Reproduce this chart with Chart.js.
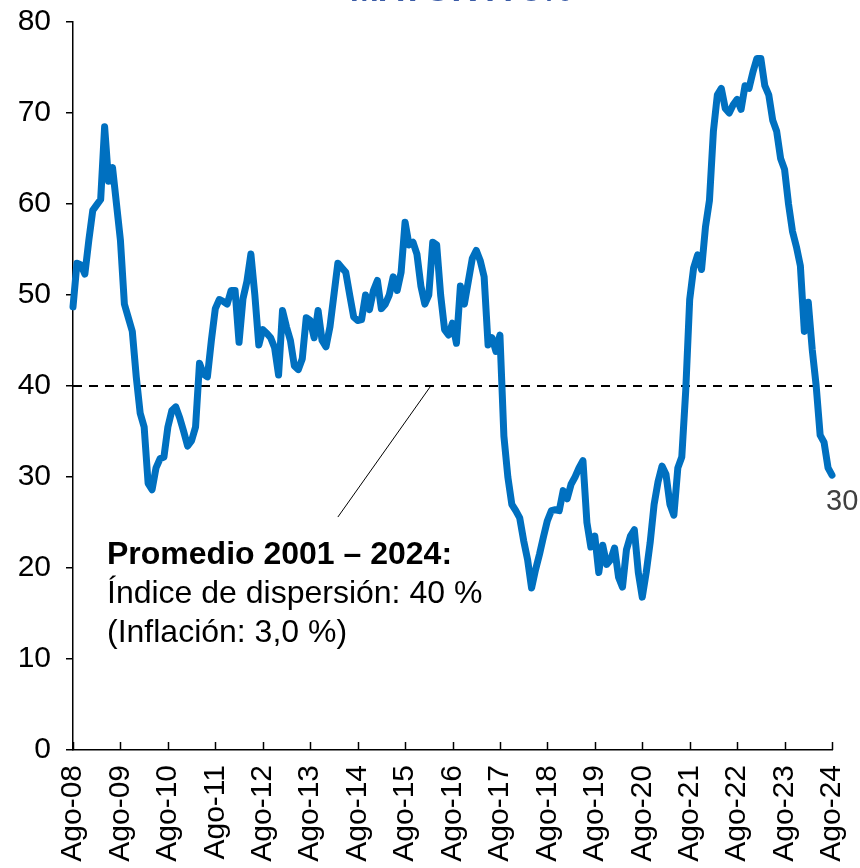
<!DOCTYPE html>
<html>
<head>
<meta charset="utf-8">
<script src="https://cdn.jsdelivr.net/npm/chart.js@4"></script>
<style>
  html, body { margin: 0; padding: 0; background: #fff; }
  #wrap { width: 860px; height: 868px; }
</style>
</head>
<body>
<div id="wrap"><canvas id="grafico" width="860" height="868"></canvas></div>
<script>
// indice de dispersion, mensual ago-08 a ago-24
const valores = [
  48.7, 53.5, 53.3, 52.3, 56.0, 59.3, 59.9, 60.5, 68.5, 62.5, 64.0, 60.0, 56.0,
  49.0, 47.5, 46.0, 41.0, 37.0, 35.5, 29.3, 28.6, 31.0, 32.0, 32.2, 35.5,
  37.3, 37.7, 36.5, 35.0, 33.4, 34.0, 35.5, 42.5, 41.3, 41.0, 45.0, 48.5,
  49.5, 49.3, 49.0, 50.5, 50.5, 44.8, 49.6, 51.5, 54.5, 50.0, 44.5, 46.2,
  45.8, 45.3, 44.2, 41.2, 48.3, 46.5, 45.0, 42.2, 41.8, 43.0, 47.5, 47.2,
  45.3, 48.3, 45.0, 44.3, 46.5, 50.0, 53.5, 53.0, 52.5, 50.0, 47.6, 47.2,
  47.3, 50.0, 48.4, 50.5, 51.6, 48.5, 49.0, 50.0, 52.0, 50.5, 52.5, 58.0,
  55.5, 55.8, 54.5, 51.0, 49.0, 50.0, 55.8, 55.5, 50.0, 46.2, 45.6, 46.9,
  44.7, 51.0, 49.0, 51.5, 54.0, 54.9, 53.8, 52.0, 44.5, 45.3, 43.8, 45.6,
  34.5, 30.0, 27.0, 26.3, 25.5, 23.0, 20.9, 17.8, 19.8, 21.5, 23.4, 25.2,
  26.3, 26.4, 26.3, 28.5, 27.6, 29.2, 30.0, 31.0, 31.8, 25.0, 22.3, 23.5,
  19.5, 22.5, 20.4, 20.9, 22.2, 19.0, 17.9, 22.0, 23.5, 24.2, 19.5, 16.8,
  19.5, 22.8, 27.0, 29.5, 31.2, 30.3, 27.0, 25.8, 31.0, 32.2, 39.5, 49.5,
  53.0, 54.4, 52.8, 57.5, 60.4, 68.0, 72.0, 72.7, 70.5, 70.0, 70.9, 71.5,
  70.4, 73.0, 72.7, 74.5, 76.0, 76.0, 73.0, 72.0, 69.2, 68.0, 65.0, 63.8,
  60.0, 57.0, 55.3, 53.2, 46.0, 49.2, 44.0, 40.0, 34.6, 33.8, 31.0, 30.2
];
const etiquetasAnio = ["Ago-08", "Ago-09", "Ago-10", "Ago-11", "Ago-12", "Ago-13", "Ago-14", "Ago-15",
  "Ago-16", "Ago-17", "Ago-18", "Ago-19", "Ago-20", "Ago-21", "Ago-22", "Ago-23", "Ago-24"];
const ticksY = [0, 10, 20, 30, 40, 50, 60, 70, 80];
const promedio = 40;
const textoPromedio = ["Promedio 2001 \u2013 2024:", "\u00cdndice de dispersi\u00f3n: 40 %", "(Inflaci\u00f3n: 3,0 %)"];
const titulo = "MAYOR A 3%";

const FUENTE = '"Liberation Sans", Arial, sans-serif';
const AZUL = "#0070c0";

const puntos = valores.map((v, i) => ({ x: i, y: v }));
const lineaProm = [{ x: 0, y: promedio }, { x: valores.length - 1, y: promedio }];

const extras = {
  id: "extras",
  afterDraw(chart) {
    const ctx = chart.ctx;
    const sx = chart.scales.x, sy = chart.scales.y;
    const area = chart.chartArea;
    ctx.save();

    // titulo cortado arriba
    ctx.fillStyle = "#3a5ba6";
    ctx.font = "bold 35px " + FUENTE;
    ctx.textAlign = "center";
    ctx.textBaseline = "alphabetic";
    ctx.fillText(titulo, 461, 1);

    // marcas del eje x hacia adentro
    ctx.strokeStyle = "#000";
    ctx.lineWidth = 1.5;
    etiquetasAnio.forEach((_, k) => {
      const px = Math.round(sx.getPixelForValue(k * 12)) + 0.5;
      ctx.beginPath();
      ctx.moveTo(px, area.bottom);
      ctx.lineTo(px, area.bottom - 8);
      ctx.stroke();
    });

    // linea guia a la anotacion
    ctx.lineWidth = 1;
    ctx.beginPath();
    ctx.moveTo(sx.getPixelForValue(67), sy.getPixelForValue(25.6));
    ctx.lineTo(sx.getPixelForValue(90.5), sy.getPixelForValue(promedio));
    ctx.stroke();

    // texto de la anotacion
    ctx.fillStyle = "#000";
    ctx.textAlign = "left";
    const tx = sx.getPixelForValue(8.6);
    const ty = sy.getPixelForValue(20.4);
    ctx.font = "bold 32px " + FUENTE;
    ctx.fillText(textoPromedio[0], tx, ty);
    ctx.font = "32px " + FUENTE;
    ctx.fillText(textoPromedio[1], tx, ty + 39);
    ctx.fillText(textoPromedio[2], tx, ty + 78);

    // ultimo dato
    const n = valores.length - 1;
    ctx.fillStyle = "#404040";
    ctx.font = "29px " + FUENTE;
    ctx.fillText(Math.round(valores[n]).toString(), sx.getPixelForValue(n) - 6, sy.getPixelForValue(valores[n]) + 35);
    ctx.restore();
  }
};

new Chart(document.getElementById("grafico"), {
  type: "line",
  data: {
    datasets: [
      {
        data: puntos,
        borderColor: AZUL,
        borderWidth: 7,
        pointRadius: 0,
        tension: 0,
        borderJoinStyle: "round",
        borderCapStyle: "round",
        clip: false,
        order: 1
      },
      {
        data: lineaProm,
        borderColor: "#000",
        borderWidth: 2,
        borderDash: [9, 7],
        pointRadius: 0,
        order: 2
      }
    ]
  },
  options: {
    responsive: false,
    animation: false,
    layout: { padding: { top: 22, right: 28, left: 0, bottom: 0 } },
    plugins: { legend: { display: false }, tooltip: { enabled: false } },
    scales: {
      x: {
        type: "linear",
        min: 0,
        max: valores.length - 1,
        afterBuildTicks: (s) => { s.ticks = etiquetasAnio.map((_, k) => ({ value: k * 12 })); },
        afterFit: (s) => { s.height = 118; s.paddingLeft = 0; s.paddingRight = 0; },
        grid: { display: false, drawTicks: false },
        border: { display: true, color: "#000", width: 1.5 },
        ticks: {
          autoSkip: false,
          minRotation: 90,
          maxRotation: 90,
          padding: 15,
          color: "#000",
          font: { family: FUENTE, size: 30 },
          callback: (v) => etiquetasAnio[v / 12]
        }
      },
      y: {
        min: 0,
        max: 80,
        afterBuildTicks: (s) => { s.ticks = ticksY.map((v) => ({ value: v })); },
        afterFit: (s) => { s.width = 73; s.paddingTop = 0; s.paddingBottom = 0; },
        grid: { drawOnChartArea: false, drawTicks: true, tickLength: 7, color: "#000", lineWidth: 1.5 },
        border: { display: true, color: "#000", width: 1.5 },
        ticks: {
          padding: 15,
          color: "#000",
          font: { family: FUENTE, size: 30 }
        }
      }
    }
  },
  plugins: [extras]
});
</script>
</body>
</html>
